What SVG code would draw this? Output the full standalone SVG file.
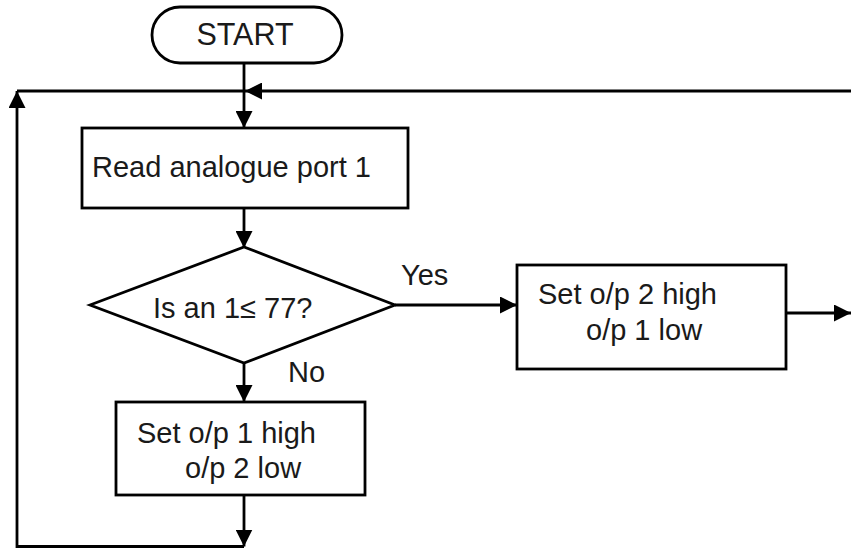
<svg xmlns="http://www.w3.org/2000/svg" width="851" height="549" viewBox="0 0 851 549">
<style>
  .shape { fill: #fff; stroke: #000; stroke-width: 2.8; }
  .txt { font-family: "Liberation Sans", Arial, sans-serif; font-size: 29px; fill: #1a1a1a; }
  .conn { fill: none; stroke: #000; stroke-width: 2.8; }
</style>
<defs>
  <marker id="arr" markerUnits="userSpaceOnUse" markerWidth="18" markerHeight="17" refX="17" refY="8.5" orient="auto">
    <path d="M0,0 L17,8.5 L0,17 z" fill="#000"/>
  </marker>
</defs>
<rect width="851" height="549" fill="#fff"/>
<g id="connectors">
  <line class="conn" x1="244" y1="63" x2="244" y2="128" marker-end="url(#arr)"/>
  <line class="conn" x1="851" y1="91" x2="245" y2="91" stroke-width="3.5" marker-end="url(#arr)"/>
  <path class="conn" d="M244,546.5 H17 V91" marker-end="url(#arr)"/>
  <line class="conn" x1="17" y1="91" x2="245" y2="91"/>
  <line class="conn" x1="244" y1="208" x2="244" y2="248" marker-end="url(#arr)"/>
  <line class="conn" x1="395" y1="305" x2="517" y2="305" stroke-width="3.2" marker-end="url(#arr)"/>
  <line class="conn" x1="244" y1="363" x2="244" y2="402" marker-end="url(#arr)"/>
  <line class="conn" x1="244" y1="495" x2="244" y2="546.5" marker-end="url(#arr)"/>
  <line class="conn" x1="786" y1="313" x2="851" y2="313" stroke-width="3.2" marker-end="url(#arr)"/>
  <text class="txt" x="401" y="285">Yes</text>
  <text class="txt" x="288" y="382">No</text>
</g>
<g id="start">
  <rect class="shape" x="152" y="7" width="190" height="56" rx="28"/>
  <text class="txt" x="245" y="45" text-anchor="middle" style="font-size:30.5px">START</text>
</g>
<g id="read">
  <rect class="shape" x="82" y="128" width="326" height="80"/>
  <text class="txt" x="92" y="177">Read analogue port 1</text>
</g>
<g id="decision">
  <polygon class="shape" points="90,305 244,247 395,305 244,363"/>
  <text class="txt" x="153" y="318">Is an 1≤ 77?</text>
</g>
<g id="yesbox">
  <rect class="shape" x="517" y="265" width="269" height="104"/>
  <text class="txt" x="538" y="304">Set o/p 2 high</text>
  <text class="txt" x="586" y="340">o/p 1 low</text>
</g>
<g id="nobox">
  <rect class="shape" x="116" y="402" width="249" height="93"/>
  <text class="txt" x="137" y="443">Set o/p 1 high</text>
  <text class="txt" x="185" y="478">o/p 2 low</text>
</g>
</svg>
